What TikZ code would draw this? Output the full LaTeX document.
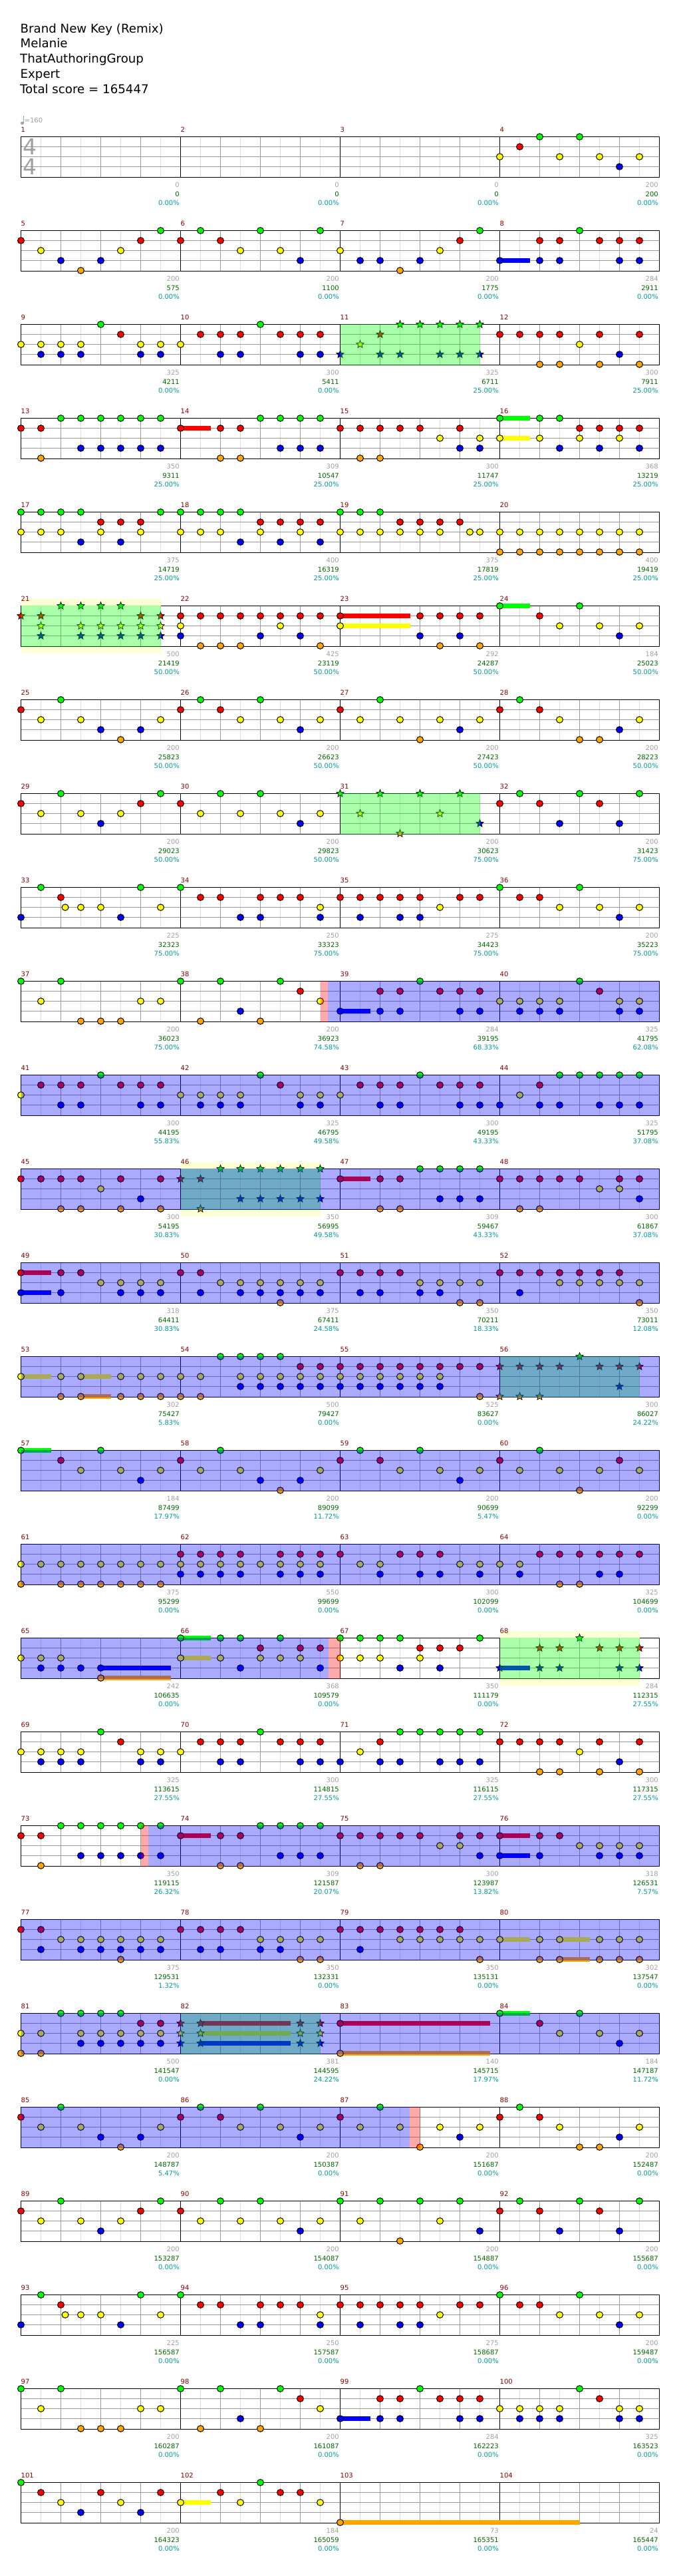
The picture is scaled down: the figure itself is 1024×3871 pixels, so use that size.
\documentclass[tikz,border=0pt]{standalone}
\usepackage{fontspec}
\setmainfont{DejaVu Sans}
\definecolor{laneG}{RGB}{0, 255, 0}
\definecolor{laneR}{RGB}{255, 0, 0}
\definecolor{laneY}{RGB}{255, 255, 0}
\definecolor{laneB}{RGB}{0, 0, 255}
\definecolor{laneO}{RGB}{255, 165, 0}
\definecolor{gridmid}{RGB}{153, 153, 153}
\definecolor{gridlight}{RGB}{221, 221, 221}
\definecolor{bandyellow}{RGB}{255, 255, 213}
\definecolor{barred}{RGB}{136, 0, 0}
\definecolor{basegrey}{RGB}{160, 160, 160}
\definecolor{totalgreen}{RGB}{0, 102, 0}
\definecolor{pctteal}{RGB}{0, 153, 153}
\def\offG{0}
\def\offR{15}
\def\offY{30}
\def\offB{45}
\def\offO{60}
\newcommand{\staffrow}[1]{%
  \pgfmathsetmacro\rowy{205.5+141*#1}%
  \draw[gridlight, line width=1pt] \foreach \s in {1,3,...,31} {(31.5+30*\s,\rowy) -- ++(0,61)};
  \draw[gridmid, line width=1pt] \foreach \s in {2,4,6,10,12,14,18,20,22,26,28,30} {(31.5+30*\s,\rowy) -- ++(0,61)};
  \draw[gridmid, line width=1pt] \foreach \l in {15,30,45} {(31.5,\rowy+\l) -- ++(960,0)};
  \draw[black, line width=1pt] \foreach \s in {8,16,24} {(31.5+30*\s,\rowy) -- ++(0,61)};
  \draw[black, line width=1pt] (31.5,\rowy) rectangle ++(960,61);
}
\newcommand{\notes}[2]{\foreach \s in {#2} {\draw[notedot, fill=lane#1] (31.5+30*\s,\rowy+\csname off#1\endcsname) ellipse [x radius=5, y radius=4.8];}}
\newcommand{\stars}[2]{\foreach \s in {#2} {\draw[starnote, fill=lane#1] (31.5+30*\s,\rowy+\csname off#1\endcsname) +(270:6) -- +(306:2.6) -- +(342:6) -- +(18:2.6) -- +(54:6) -- +(90:2.6) -- +(126:6) -- +(162:2.6) -- +(198:6) -- +(234:2.6) -- cycle;}}
\newcommand{\hold}[3]{\fill[lane#1] (31.5+30*#2,\rowy+\csname off#1\endcsname-3.5) rectangle (31.5+30*#3,\rowy+\csname off#1\endcsname+3.5);}
\newcommand{\phase}[2]{\fill[phasefill] (31.5+30*#1,\rowy-.5) rectangle (31.5+30*#2,\rowy+61.5);}
\newcommand{\drive}[2]{\fill[drivefill] (31.5+30*#1,\rowy-.5) rectangle (31.5+30*#2,\rowy+61.5);}
\newcommand{\whammy}[2]{\fill[whammyfill] (31.5+30*#1,\rowy-.5) rectangle (31.5+30*#2,\rowy+61.5);}
\newcommand{\band}[2]{%
  \fill[bandyellow] (31.5+30*#1,\rowy-10.5) rectangle (31.5+30*#2,\rowy);
  \fill[bandyellow] (31.5+30*#1,\rowy+61) rectangle (31.5+30*#2,\rowy+71.5);
}
\newcommand{\scores}[2]{%
  \foreach \basept/\totalpt/\pctval [count=\mm from 0] in {#2} {
    \pgfmathtruncatemacro\barno{4*#1+\mm+1}
    \pgfmathsetmacro\texty{205.5+141*#1}
    \node[barlabel] (bar\barno) at (31.5+240*\mm,\texty-7.5) {\barno};
    \node[scorelabel, basegrey] (base\barno) at (30+240*\mm+240,\texty+76.2) {\basept};
    \node[scorelabel, totalgreen] (total\barno) at (30+240*\mm+240,\texty+89.5) {\totalpt};
    \node[scorelabel, pctteal] (pct\barno) at (30+240*\mm+240,\texty+102.5) {\pctval\%};
  }
}
\begin{document}
\begin{tikzpicture}[
    x=1pt, y=-1pt,
    notedot/.style={draw=black, line width=1pt},
    starnote/.style={draw=black, line width=.7pt, line join=miter},
    phasefill/.style={fill=laneG, opacity=1/3},
    drivefill/.style={fill=laneB, opacity=1/3},
    whammyfill/.style={fill=laneR, opacity=1/3},
    titleline/.style={anchor=base west, inner sep=0pt, font=\fontsize{18.2}{20}\selectfont},
    barlabel/.style={anchor=base west, inner sep=0pt, barred, font=\fontsize{10}{12}\selectfont},
    scorelabel/.style={anchor=base east, inner sep=0pt, font=\fontsize{10}{12}\selectfont},
    sigdigit/.style={anchor=base west, inner sep=0pt, basegrey, font=\fontsize{33}{36}\selectfont}
  ]
  \useasboundingbox (0,0) rectangle (1024,3871);
  \fill[white] (0,0) rectangle (1024,3871);

  \node[titleline] (songname) at (30.5,49) {Brand New Key (Remix)};
  \node[titleline] (artist) at (30.5,71.8) {Melanie};
  \node[titleline] (charter) at (30,94.8) {ThatAuthoringGroup};
  \node[titleline] (difficulty) at (30.5,117.8) {Expert};
  \node[titleline] (totalscore) at (30,140.8) {Total score = 165447};

  \fill[basegrey] (33.5,185) ellipse [x radius=2.6, y radius=2.2];
  \draw[basegrey, line width=.8pt] (35.6,185) -- (35.6,174);
  \node[anchor=base west, inner sep=0pt, basegrey, font=\fontsize{10}{12}\selectfont] (tempo) at (36.5,184.6) {=160};
  \node[sigdigit] (sigtop) at (34.5,232.7) {4};
  \node[sigdigit] (sigbottom) at (34.5,262.7) {4};

  % row 1
  \staffrow{0}
  \notes{G}{26,28}
  \notes{R}{25}
  \notes{Y}{24,27,29,31}
  \notes{B}{30}

  % row 2
  \staffrow{1}
  \hold{B}{24}{25.5}
  \notes{G}{7,9,12,15,23,28}
  \notes{R}{0,6,8,10,22,26,27,29,30,31}
  \notes{Y}{1,5,11,13,16,21}
  \notes{B}{2,4,14,17,18,20,24,26,27,30,31}
  \notes{O}{3,19}

  % row 3
  \staffrow{2}
  \notes{G}{4,12}
  \notes{R}{5,9,10,11,13,14,15,24,25,26,27,29,31}
  \notes{Y}{0,1,2,3,6,7,8,28}
  \notes{B}{1,2,3,6,7,10,11,14,15,30}
  \notes{O}{26,27,29,31}
  \stars{G}{19,20,21,22,23}
  \stars{R}{18}
  \stars{Y}{17}
  \stars{B}{16,18,19,21,22,23}
  \phase{16}{23}

  % row 4
  \staffrow{3}
  \hold{R}{8}{9.5}
  \hold{G}{24}{25.5}
  \hold{Y}{24}{25.5}
  \notes{G}{2,3,4,5,6,7,12,13,14,15,24,26,27}
  \notes{R}{0,1,8,10,11,16,17,18,19,20,22,28,29,30,31}
  \notes{Y}{21,23,24,26,28,30}
  \notes{B}{3,4,5,6,7,13,14,15,22,23,27,29,31}
  \notes{O}{1,10,11,17,18}

  % row 5
  \staffrow{4}
  \notes{G}{0,1,2,3,7,8,9,10,11,16,17,18}
  \notes{R}{4,5,6,12,13,14,15,19,20,21,22}
  \notes{Y}{0,1,2,4,6,8,9,10,12,14,16,17,18,19,20,21,22.5,23,24,25,26,27,28,29,30,31}
  \notes{B}{3,5,11,13,15}
  \notes{O}{24,25,26,27,28,29,30,31}

  % row 6
  \staffrow{5}
  \band{0}{7}
  \hold{R}{16}{19.5}
  \hold{Y}{16}{19.5}
  \hold{G}{24}{25.5}
  \notes{G}{24,28}
  \notes{R}{8,9,10,11,12,13,14,15,16,20,21,22,23,26}
  \notes{Y}{8,13,16,27,29,31}
  \notes{B}{8,12,14,20,22,30}
  \notes{O}{9,10,11,15,21,23}
  \stars{G}{2,3,4,5}
  \stars{R}{0,1,6,7}
  \stars{Y}{1,3,4,5,6,7}
  \stars{B}{1,3,4,5,6,7}
  \phase{0}{7}

  % row 7
  \staffrow{6}
  \notes{G}{2,9,12,18,25}
  \notes{R}{0,8,10,16,24,26}
  \notes{Y}{1,3,7,11,13,15,17,19,21,23,27,31}
  \notes{B}{4,6,14,22,30}
  \notes{O}{5,20,28,29}

  % row 8
  \staffrow{7}
  \notes{G}{2,7,10,12,25,28,31}
  \notes{R}{0,6,8,24,26,29}
  \notes{Y}{1,3,5,9,11,13,15}
  \notes{B}{4,14,27,30}
  \stars{G}{16,18,20,22}
  \stars{Y}{17,21}
  \stars{B}{23}
  \stars{O}{19}
  \phase{16}{23}

  % row 9
  \staffrow{8}
  \notes{G}{1,6,8,24,28}
  \notes{R}{2,9,10,12,13,14,16,17,18,19,20,22,23,25,26}
  \notes{Y}{2.22,3,4,7,15,21,27,29,31}
  \notes{B}{0,5,11,12,15,17,19,20,30}

  % row 10
  \staffrow{9}
  \hold{B}{16}{17.5}
  \notes{G}{0,2,8,10,13,20,28}
  \notes{R}{14,18,19,21,22,23,29}
  \notes{Y}{1,6,7,15,24,25,26,27,30,31}
  \notes{B}{11,16,18,19,22,23,25,26,27,30,31}
  \notes{O}{3,4,5,9,12}
  \whammy{15}{15.39}
  \drive{15.39}{32}

  % row 11
  \staffrow{10}
  \notes{G}{4,12,20,27,28,29,30,31}
  \notes{R}{1,2,3,5,6,7,13,17,18,19,21,22,23,26}
  \notes{Y}{0,8,9,10,11,14,15,16,25}
  \notes{B}{2,3,6,7,9,10,11,14,15,18,19,22,23,24,26,27,29,30,31}
  \drive{0}{32}

  % row 12
  \staffrow{11}
  \band{8}{15}
  \hold{R}{16}{17.5}
  \notes{G}{20,21,22,23}
  \notes{R}{0,1,2,3,5,7,16,18,19,24,25,26,27,28,30,31}
  \notes{Y}{4,29,30}
  \notes{B}{6,21,22,23,31}
  \notes{O}{2,3,5,7,18,19,25,26}
  \stars{G}{10,11,12,13,14,15}
  \stars{R}{8,9}
  \stars{B}{11,12,13,14,15}
  \stars{O}{9}
  \phase{8}{15}
  \drive{0}{32}

  % row 13
  \staffrow{12}
  \hold{R}{0}{1.5}
  \hold{B}{0}{1.5}
  \notes{R}{0,2,3,8,9,16,17,18,19,24,25,26,27,28,29,30}
  \notes{Y}{4,5,6,7,10,11,12,13,14,15,20,21,22,23,27,28,29,30,31}
  \notes{B}{0,2,5,6,7,9,11,12,13,14,15,17,18,20,21,25}
  \notes{O}{13,22,23,31}
  \drive{0}{32}

  % row 14
  \staffrow{13}
  \hold{Y}{0}{1.5}
  \hold{Y}{3}{4.5}
  \hold{O}{3}{4.5}
  \notes{G}{10,11,12,13}
  \notes{R}{14,15,16,17,18,19,20,21,22,23}
  \notes{Y}{0,2,3,5,6,7,8,9,11,12,13,14,15,16,17,18,19,20,21}
  \notes{B}{11,12,13,14,15,16,17,18,19,20,21}
  \notes{O}{2,3,5,6,7,8,9,23}
  \stars{G}{28}
  \stars{R}{24,25,26,27,29,30,31}
  \stars{B}{30}
  \stars{O}{24,25,26}
  \phase{24}{31}
  \drive{0}{32}

  % row 15
  \staffrow{14}
  \hold{G}{0}{1.5}
  \notes{G}{0,4,10,17,20,26}
  \notes{R}{2,8,16,18,24,30}
  \notes{Y}{3,5,7,9,11,15,19,21,23,25,27,29,31}
  \notes{B}{6,12,14,22}
  \notes{O}{13,28}
  \drive{0}{32}

  % row 16
  \staffrow{15}
  \notes{R}{8,9,10,11,13,14,15,16,19,20,21,26,27,28,29,30,31}
  \notes{Y}{0,1,2,3,4,5,6,7,8,9,10,11,12,13,14,15,17,18,22,23,24,25}
  \notes{B}{8,9,10,11,13,14,15,18,20,21,23,25,29,30}
  \notes{O}{0,2,3,4,5,6,7,27,28}
  \drive{0}{32}

  % row 17
  \staffrow{16}
  \band{24}{31}
  \hold{B}{4}{7.5}
  \hold{O}{4}{7.5}
  \hold{G}{8}{9.5}
  \hold{Y}{8}{9.5}
  \hold{B}{24}{25.5}
  \notes{G}{8,10,11,13,16,17,18,19,23}
  \notes{R}{12,14,15,20,21,22}
  \notes{Y}{0,1,2,8,10,12,13,14,16,17,18,20}
  \notes{B}{1,2,3,4,11,15,19,21}
  \notes{O}{4}
  \stars{G}{28}
  \stars{R}{26,27,29,30,31}
  \stars{B}{24,26,27,30,31}
  \phase{24}{31}
  \drive{0}{15.43}
  \whammy{15.43}{16}

  % row 18
  \staffrow{17}
  \notes{G}{4,12,19,20,21,22,23}
  \notes{R}{5,9,10,11,13,14,15,18,24,25,26,27,29,31}
  \notes{Y}{0,1,2,3,6,7,8,17,28}
  \notes{B}{1,2,3,6,7,10,11,14,15,16,18,19,21,22,23,30}
  \notes{O}{26,27,29,31}

  % row 19
  \staffrow{18}
  \hold{R}{8}{9.5}
  \hold{R}{24}{25.5}
  \hold{B}{24}{25.5}
  \notes{G}{2,3,4,5,6,7,12,13,14,15}
  \notes{R}{0,1,8,10,11,16,17,18,19,20,22,23,24,26,27}
  \notes{Y}{21,22,28,29,30,31}
  \notes{B}{3,4,5,6,7,13,14,15,23,24,26,29,30,31}
  \notes{O}{1,10,11,17,18}
  \whammy{6}{6.39}
  \drive{6.39}{32}

  % row 20
  \staffrow{19}
  \hold{Y}{24}{25.5}
  \hold{Y}{27}{28.5}
  \hold{O}{27}{28.5}
  \notes{R}{0,1,8,9,10,11,16,17,18,19,20,21,22}
  \notes{Y}{2,3,4,5,6,7,12,13,14,15,19,20,21,22,23,24,26,27,29,30,31}
  \notes{B}{1,3,4,5,6,7,9,10,12,13,17}
  \notes{O}{5,14,15,23,26,27,29,30,31}
  \drive{0}{32}

  % row 21
  \staffrow{20}
  \hold{R}{9}{13.5}
  \hold{Y}{9}{13.5}
  \hold{B}{9}{13.5}
  \hold{R}{16}{23.5}
  \hold{O}{16}{23.5}
  \hold{G}{24}{25.5}
  \notes{G}{2,3,4,5,24,28}
  \notes{R}{6,7,16,26}
  \notes{Y}{0,1,3,4,5,6,7,27,29,31}
  \notes{B}{3,4,5,6,7,30}
  \notes{O}{0,1,16}
  \stars{R}{8,9,14,15}
  \stars{Y}{8,9,14,15}
  \stars{B}{8,9,14,15}
  \phase{8}{15}
  \drive{0}{32}

  % row 22
  \staffrow{21}
  \notes{G}{2,9,12,18,25}
  \notes{R}{0,8,10,16,24,26}
  \notes{Y}{1,3,7,11,13,15,17,19,21,23,27,31}
  \notes{B}{4,6,14,22,30}
  \notes{O}{5,20,28,29}
  \drive{0}{19.48}
  \whammy{19.48}{20}

  % row 23
  \staffrow{22}
  \notes{G}{2,7,10,12,16,18,20,22,25,28,31}
  \notes{R}{0,6,8,24,26,29}
  \notes{Y}{1,3,5,9,11,13,15,17,21}
  \notes{B}{4,14,23,27,30}
  \notes{O}{19}

  % row 24
  \staffrow{23}
  \notes{G}{1,6,8,24,28}
  \notes{R}{2,9,10,12,13,14,16,17,18,19,20,22,23,25,26}
  \notes{Y}{2.22,3,4,7,15,21,27,29,31}
  \notes{B}{0,5,11,12,15,17,19,20,30}

  % row 25
  \staffrow{24}
  \hold{B}{16}{17.5}
  \notes{G}{0,2,8,10,13,20,28}
  \notes{R}{14,18,19,21,22,23,29}
  \notes{Y}{1,6,7,15,24,25,26,27,30,31}
  \notes{B}{11,16,18,19,22,23,25,26,27,30,31}
  \notes{O}{3,4,5,9,12}

  % row 26
  \staffrow{25}
  \hold{Y}{8}{9.5}
  \hold{O}{16}{28}
  \notes{G}{0,12}
  \notes{R}{1,4,7,10,13,14}
  \notes{Y}{2,5,8,11,15}
  \notes{B}{3,6}
  \notes{O}{16}

  % numbers under the bars
  \scores{0}{0/0/0.00,0/0/0.00,0/0/0.00,200/200/0.00}
  \scores{1}{200/575/0.00,200/1100/0.00,200/1775/0.00,284/2911/0.00}
  \scores{2}{325/4211/0.00,300/5411/0.00,325/6711/25.00,300/7911/25.00}
  \scores{3}{350/9311/25.00,309/10547/25.00,300/11747/25.00,368/13219/25.00}
  \scores{4}{375/14719/25.00,400/16319/25.00,375/17819/25.00,400/19419/25.00}
  \scores{5}{500/21419/50.00,425/23119/50.00,292/24287/50.00,184/25023/50.00}
  \scores{6}{200/25823/50.00,200/26623/50.00,200/27423/50.00,200/28223/50.00}
  \scores{7}{200/29023/50.00,200/29823/50.00,200/30623/75.00,200/31423/75.00}
  \scores{8}{225/32323/75.00,250/33323/75.00,275/34423/75.00,200/35223/75.00}
  \scores{9}{200/36023/75.00,200/36923/74.58,284/39195/68.33,325/41795/62.08}
  \scores{10}{300/44195/55.83,325/46795/49.58,300/49195/43.33,325/51795/37.08}
  \scores{11}{300/54195/30.83,350/56995/49.58,309/59467/43.33,300/61867/37.08}
  \scores{12}{318/64411/30.83,375/67411/24.58,350/70211/18.33,350/73011/12.08}
  \scores{13}{302/75427/5.83,500/79427/0.00,525/83627/0.00,300/86027/24.22}
  \scores{14}{184/87499/17.97,200/89099/11.72,200/90699/5.47,200/92299/0.00}
  \scores{15}{375/95299/0.00,550/99699/0.00,300/102099/0.00,325/104699/0.00}
  \scores{16}{242/106635/0.00,368/109579/0.00,350/111179/0.00,284/112315/27.55}
  \scores{17}{325/113615/27.55,300/114815/27.55,325/116115/27.55,300/117315/27.55}
  \scores{18}{350/119115/26.32,309/121587/20.07,300/123987/13.82,318/126531/7.57}
  \scores{19}{375/129531/1.32,350/132331/0.00,350/135131/0.00,302/137547/0.00}
  \scores{20}{500/141547/0.00,381/144595/24.22,140/145715/17.97,184/147187/11.72}
  \scores{21}{200/148787/5.47,200/150387/0.00,200/151687/0.00,200/152487/0.00}
  \scores{22}{200/153287/0.00,200/154087/0.00,200/154887/0.00,200/155687/0.00}
  \scores{23}{225/156587/0.00,250/157587/0.00,275/158687/0.00,200/159487/0.00}
  \scores{24}{200/160287/0.00,200/161087/0.00,284/162223/0.00,325/163523/0.00}
  \scores{25}{200/164323/0.00,184/165059/0.00,73/165351/0.00,24/165447/0.00}
\end{tikzpicture}
\end{document}
